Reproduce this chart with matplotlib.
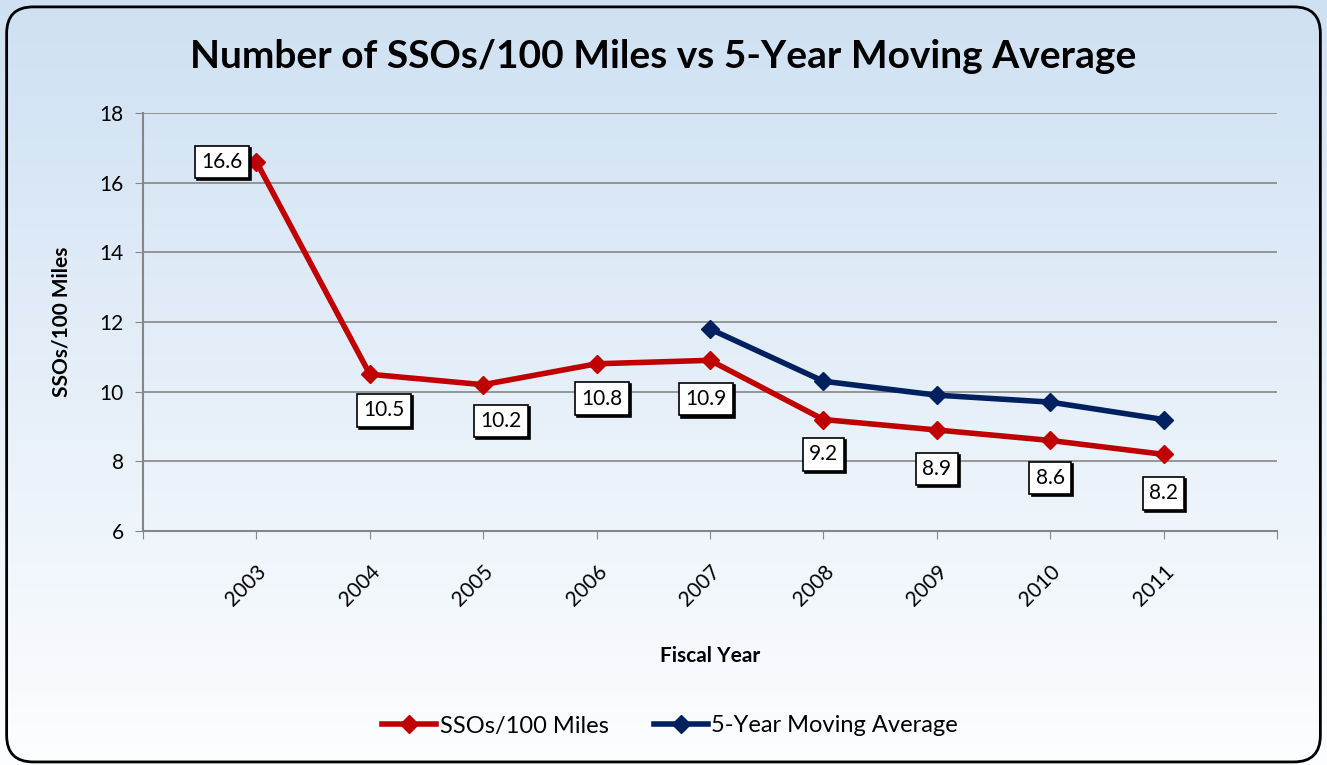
import numpy as np
import matplotlib.pyplot as plt
from matplotlib.patches import FancyBboxPatch

plt.rcParams['font.family'] = ['Lato', 'DejaVu Sans']

# data
years = ['2003', '2004', '2005', '2006', '2007', '2008', '2009', '2010', '2011']
sso = [16.6, 10.5, 10.2, 10.8, 10.9, 9.2, 8.9, 8.6, 8.2]
avg_years = ['2007', '2008', '2009', '2010', '2011']
avg = [11.8, 10.3, 9.9, 9.7, 9.2]

# label offsets (points) for the red series
lab_off = [(-25, 0), (10, -26), (13, -26), (4, -25), (-3, -28), (0, -25), (0, -28), (0, -27), (0, -28)]

red = '#c00000'
navy = '#002060'

fig = plt.figure(figsize=(13.27, 7.65), dpi=100)

# gradient background
bg = fig.add_axes([0, 0, 1, 1], zorder=-10)
grad = np.linspace(0, 1, 256).reshape(-1, 1)
top = np.array([0.81, 0.88, 0.95])
bot = np.array([0.99, 0.995, 1.0])
img = top[None, None, :] * (1 - grad[:, :, None]) + bot[None, None, :] * grad[:, :, None]
bg.imshow(img, aspect='auto', extent=[0, 1, 0, 1], origin='upper')
bg.set_xlim(0, 1)
bg.set_ylim(0, 1)
bg.axis('off')
# rounded border
box = FancyBboxPatch((0.005, 0.004), 0.99, 0.987, boxstyle='round,pad=0,rounding_size=0.02',
                     transform=bg.transAxes, fc='none', ec='black', lw=2, mutation_aspect=1327 / 765)
bg.add_patch(box)

ax = fig.add_axes([143 / 1327, 1 - 531 / 765, (1277 - 143) / 1327, (531 - 113) / 765])
ax.patch.set_alpha(0)

x = np.arange(len(years))
xa = np.array([years.index(y) for y in avg_years])

ax.plot(x, sso, color=red, lw=4, marker='D', ms=9, mec=red, mfc=red, label='SSOs/100 Miles', zorder=3)
ax.plot(xa, avg, color=navy, lw=4, marker='D', ms=9, mec=navy, mfc=navy, label='5-Year Moving Average', zorder=3)

for i, v in enumerate(sso):
    ax.annotate(f'{v}', (x[i], v), xytext=lab_off[i], textcoords='offset points',
                ha='center', va='center', fontsize=15,
                bbox=dict(boxstyle='square,pad=0.3', fc='white', ec='black', lw=1.2), zorder=5)
    # shadow
    ax.annotate(f'{v}', (x[i], v), xytext=(lab_off[i][0] + 1.5, lab_off[i][1] - 1.5),
                textcoords='offset points', ha='center', va='center', fontsize=15, color='black',
                bbox=dict(boxstyle='square,pad=0.3', fc='black', ec='black', lw=1.2), zorder=4)

ax.set_xlim(-1, 9)
ax.set_ylim(6, 18)
ax.set_yticks(np.arange(6, 19, 2))
ax.set_xticks(np.arange(-1, 10))
ax.set_xticklabels([''] + years + [''], rotation=45, ha='right', rotation_mode='anchor', fontsize=15)
ax.tick_params(axis='y', labelsize=15, length=6, color='#868686', pad=8)
ax.tick_params(axis='x', length=6, color='#868686', pad=16)
ax.grid(axis='y', color='#868686', lw=1.2)
ax.set_axisbelow(True)
for s in ['top', 'right']:
    ax.spines[s].set_visible(False)
for s in ['left', 'bottom']:
    ax.spines[s].set_color('#868686')
    ax.spines[s].set_linewidth(1.5)

ax.set_ylabel('SSOs/100 Miles', fontsize=15, fontweight='bold', labelpad=20)
ax.set_xlabel('Fiscal Year', fontsize=15, fontweight='bold', labelpad=26)

fig.text(0.5, 1 - 56 / 765, 'Number of SSOs/100 Miles vs 5-Year Moving Average',
         ha='center', va='center', fontsize=28, fontweight='bold')

fig.legend(loc='center', bbox_to_anchor=(0.505, 1 - 726 / 765), ncol=2, frameon=False,
           fontsize=17, handlelength=2.3, columnspacing=1.9, handletextpad=0.15)

fig.savefig('out.png', dpi=100)
